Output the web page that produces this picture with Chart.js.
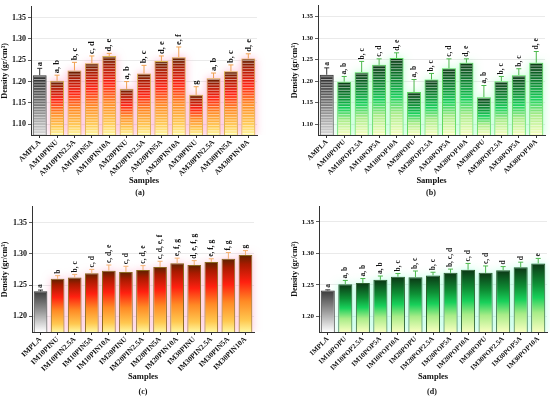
<!DOCTYPE html>
<html>
<head>
<meta charset="utf-8">
<script src="https://cdn.jsdelivr.net/npm/chart.js@4.4.1/dist/chart.umd.min.js"></script>
<style>
html,body{margin:0;padding:0;background:#fff;}
body{width:550px;height:397px;position:relative;overflow:hidden;}
.pane{position:absolute;}
.cap{position:absolute;font:bold 8px "Liberation Serif",serif;color:#111;text-align:center;width:40px;}
</style>
</head>
<body>
<div class="pane" style="left:0;top:0;width:275px;height:200px;"><canvas id="ca"></canvas></div>
<div class="pane" style="left:275px;top:0;width:275px;height:200px;"><canvas id="cb"></canvas></div>
<div class="pane" style="left:0;top:200px;width:275px;height:197px;"><canvas id="cc"></canvas></div>
<div class="pane" style="left:275px;top:200px;width:275px;height:197px;"><canvas id="cd"></canvas></div>
<div class="cap" style="left:120px;top:188px;">(a)</div>
<div class="cap" style="left:411px;top:188px;">(b)</div>
<div class="cap" style="left:123px;top:387px;">(c)</div>
<div class="cap" style="left:412px;top:387px;">(d)</div>
<script>
// ---------- DATA ----------
const categoriesA = ["AMPLA","AM10PINU","AM10PIN2.5A","AM10PIN5A","AM10PIN10A","AM20PINU","AM20PIN2.5A","AM20PIN5A","AM20PIN10A","AM30PINU","AM30PIN2.5A","AM30PIN5A","AM30PIN10A"];
const valuesA = [1.215,1.202,1.226,1.243,1.260,1.183,1.219,1.248,1.257,1.169,1.208,1.224,1.254];
const errorsA = [0.016,0.013,0.019,0.017,0.006,0.017,0.019,0.012,0.024,0.019,0.012,0.015,0.011];
const lettersA = ["a","a, b","b, c","c, d","d, e","a, b","b, c","d, e","e, f","g","a, b","b, c","d, e"];

const categoriesB = ["AMPLA","AM10POPU","AM10POP2.5A","AM10POP5A","AM10POP10A","AM20POPU","AM20POP2.5A","AM20POP5A","AM20POP10A","AM30POPU","AM30POP2.5A","AM30POP5A","AM30POP10A"];
const valuesB = [1.215,1.199,1.221,1.238,1.254,1.175,1.204,1.230,1.243,1.163,1.200,1.214,1.243];
const errorsB = [0.016,0.012,0.025,0.014,0.012,0.029,0.014,0.022,0.009,0.027,0.011,0.015,0.026];
const lettersB = ["a","a, b","b, c","c, d","d, e","a, b","b, c","c, d","d, e","a, b","b, c","b, c","d, e"];

const categoriesC = ["IMPLA","IM10PINU","IM10PIN2.5A","IM10PIN5A","IM10PIN10A","IM20PINU","IM20PIN2.5A","IM20PIN5A","IM20PIN10A","IM30PINU","IM30PIN2.5A","IM30PIN5A","IM30PIN10A"];
const valuesC = [1.240,1.260,1.262,1.269,1.273,1.271,1.274,1.279,1.285,1.282,1.287,1.292,1.298];
const errorsC = [0.002,0.005,0.005,0.006,0.009,0.009,0.007,0.009,0.008,0.007,0.005,0.010,0.007];
const lettersC = ["a","b","b, c","c, d","c, d, e","c, d","c, d, e","c, d, e, f","e, f, g","d, e, f, g","e, f, g","f, g","g"];

const categoriesD = ["IMPLA","IM10POPU","IM10POP2.5A","IM10POP5A","IM10POP10A","IM20POPU","IM20POP2.5A","IM20POP5A","IM20POP10A","IM30POPU","IM30POP2.5A","IM30POP5A","IM30POP10A"];
const valuesD = [1.241,1.251,1.253,1.258,1.263,1.262,1.265,1.269,1.274,1.269,1.273,1.278,1.284];
const errorsD = [0.001,0.006,0.007,0.006,0.005,0.010,0.005,0.006,0.010,0.011,0.006,0.008,0.008];
const lettersD = ["a","a, b","a, b","a, b","b, c","b, c","b, c","b, c, d","c, d","c, d","d","d","e"];

const tickValuesAB = [1.10,1.15,1.20,1.25,1.30,1.35];
const tickValuesCD = [1.20,1.25,1.30,1.35];

// ---------- STYLE ----------
const SERIF = '"Liberation Serif", "Times New Roman", serif';
const redStops = [[0,'#5a2200'],[0.12,'#a81a00'],[0.35,'#ff2010'],[0.6,'#ff8a25'],[0.85,'#ffc850'],[1,'#fff7a0']];
const greenStops = [[0,'#0b3614'],[0.3,'#0e8f35'],[0.5,'#18d05a'],[0.72,'#a8ec88'],[1,'#f8ffc0']];
const grayStripeStops = [[0,'#2a2a2a'],[0.5,'#7a7a7a'],[1,'#d8d8d8']];
const grayStops = [[0,'#3a3a3a'],[0.5,'#9a9a9a'],[1,'#ffffff']];

function gradFill(stops, plaStops){
  return (ctx)=>{
    const chart = ctx.chart;
    if(!chart.chartArea) return '#888';
    const ys = chart.scales.y;
    const top = ys.getPixelForValue(ctx.raw);
    const bot = ys.bottom;
    const g = chart.ctx.createLinearGradient(0, top, 0, bot);
    (ctx.dataIndex===0 ? plaStops : stops).forEach(s=>g.addColorStop(s[0], s[1]));
    return g;
  };
}

const decoPlugin = {
  id:'deco',
  beforeDatasetsDraw(chart, args, o){
    if(!o.glow) return;
    const c = chart.ctx, meta = chart.getDatasetMeta(0), ca = chart.chartArea;
    c.save();
    c.beginPath(); c.rect(ca.left+1, 0, ca.right-ca.left+20, ca.bottom); c.clip();
    c.shadowColor = o.glow; c.shadowBlur = 9;
    c.fillStyle = o.glowFill;
    meta.data.forEach((b,i)=>{
      if(i===0) return;
      const p = b.getProps(['x','y','base','width'], true);
      const base = Math.min(p.base, ca.bottom);
      c.fillRect(p.x-p.width/2, p.y, p.width, base-p.y);
    });
    c.restore();
  },
  afterDatasetsDraw(chart, args, o){
    const c = chart.ctx, meta = chart.getDatasetMeta(0), ys = chart.scales.y, ca = chart.chartArea;
    const vals = chart.data.datasets[0].data;
    c.save();
    meta.data.forEach((b,i)=>{
      const p = b.getProps(['x','y','base','width'], true);
      const base = Math.min(p.base, ca.bottom);
      const l = p.x-p.width/2+1, w = p.width-2;
      if(o.stripes){
        c.save();
        c.beginPath(); c.rect(l, p.y+1, w, base-p.y-1); c.clip();
        c.strokeStyle = 'rgba(255,255,255,0.55)'; c.lineWidth = 1;
        for(let yy = base-1.5; yy > p.y; yy -= 2.7){
          c.beginPath(); c.moveTo(l, yy); c.lineTo(l+w, yy); c.stroke();
        }
        c.restore();
      }
      const yTop = ys.getPixelForValue(vals[i] + o.errors[i]);
      c.strokeStyle = i===0 ? '#333' : o.errColor;
      c.lineWidth = 1;
      c.beginPath();
      c.moveTo(p.x, p.y); c.lineTo(p.x, yTop);
      c.moveTo(p.x-2.5, yTop); c.lineTo(p.x+2.5, yTop);
      c.stroke();
      c.save();
      c.translate(p.x, yTop-2);
      c.rotate(-Math.PI/2);
      c.font = 'bold '+o.letterSize+'px '+SERIF;
      c.fillStyle = '#111';
      c.textAlign = 'left'; c.textBaseline = 'middle';
      c.fillText(o.letters[i], 0, 0);
      c.restore();
    });
    c.restore();
  }
};

function makeChart(id, cfg){
  return new Chart(document.getElementById(id), {
    type:'bar',
    data:{
      labels: cfg.labels,
      datasets:[{
        data: cfg.values,
        base: cfg.min,
        backgroundColor: gradFill(cfg.stops, cfg.plaStops),
        borderColor: (ctx)=> ctx.dataIndex===0 ? '#333' : cfg.border,
        borderWidth: 1,
        barPercentage: 0.8,
        categoryPercentage: 1.0
      }]
    },
    options:{
      responsive:true, maintainAspectRatio:false, animation:false,
      devicePixelRatio:1,
      layout:{padding:cfg.padding},
      plugins:{
        legend:{display:false}, tooltip:{enabled:false},
        deco:{errors:cfg.errors, letters:cfg.letters, errColor:cfg.errColor, stripes:cfg.stripes,
              glow:cfg.glow, glowFill:cfg.glowFill, letterSize:cfg.letterSize}
      },
      scales:{
        x:{
          grid:{display:true, drawOnChartArea:false, drawTicks:true, tickLength:3, tickColor:'#333', offset:false},
          border:{color:'#333', width:1},
          ticks:{font:{family:SERIF, size:cfg.xFont, weight:'bold'}, color:'#111', minRotation:45, maxRotation:45, autoSkip:false, padding:0},
          title:{display:true, text:'Samples', font:{family:SERIF, size:8.5, weight:'bold'}, color:'#111', padding:{top:0,bottom:0}},
          afterFit:(s)=>{ s.height = cfg.xHeight; }
        },
        y:{
          min:cfg.min, max:cfg.max,
          afterBuildTicks:(s)=>{ s.ticks = cfg.ticks.map(v=>({value:v})); },
          grid:{color:'#e4e4e4', lineWidth:0.8, drawTicks:true, tickLength:3, tickColor:'#333'},
          border:{color:'#333', width:1},
          ticks:{font:{family:SERIF, size:cfg.yFont, weight:'bold'}, color:'#111', padding:2, callback:(v)=>Number(v).toFixed(2)},
          title:{display:true, text:'Density (gr/cm³)', font:{family:SERIF, size:8, weight:'bold'}, color:'#111', padding:{top:0,bottom:0}},
          afterFit:(s)=>{ s.width = cfg.yWidth; }
        }
      }
    },
    plugins:[decoPlugin]
  });
}

makeChart('ca', {labels:categoriesA, values:valuesA, errors:errorsA, letters:lettersA,
  stops:redStops, plaStops:grayStripeStops, border:'#d9b050', errColor:'#f0a050', stripes:true,
  glow:'rgba(255,120,170,0.55)', glowFill:'#ffd0d8', letterSize:8.5,
  min:1.075, max:1.375, ticks:tickValuesAB, xFont:7.5, yFont:8,
  padding:{top:5,right:18,left:0,bottom:14}, yWidth:31, xHeight:51});

makeChart('cb', {labels:categoriesB, values:valuesB, errors:errorsB, letters:lettersB,
  stops:greenStops, plaStops:grayStripeStops, border:'#5fd860', errColor:'#4cb84c', stripes:true,
  glow:'rgba(120,255,160,0.5)', glowFill:'#c8ffd8', letterSize:7.5,
  min:1.075, max:1.375, ticks:tickValuesAB, xFont:7, yFont:6.5,
  padding:{top:5,right:5,left:15,bottom:14}, yWidth:28, xHeight:51});

makeChart('cc', {labels:categoriesC, values:valuesC, errors:errorsC, letters:lettersC,
  stops:redStops, plaStops:grayStops, border:'#8a6a20', errColor:'#f5b070', stripes:false,
  glow:'rgba(255,140,180,0.5)', glowFill:'#ffd8e0', letterSize:7.5,
  min:1.175, max:1.375, ticks:tickValuesCD, xFont:7.5, yFont:8,
  padding:{top:2,right:21,left:0,bottom:15}, yWidth:32, xHeight:50});

makeChart('cd', {labels:categoriesD, values:valuesD, errors:errorsD, letters:lettersD,
  stops:greenStops, plaStops:grayStops, border:'#2f5f2f', errColor:'#4cb84c', stripes:false,
  glow:'rgba(120,255,200,0.5)', glowFill:'#c8fff0', letterSize:7.5,
  min:1.175, max:1.375, ticks:tickValuesCD, xFont:7, yFont:7,
  padding:{top:2,right:3,left:15,bottom:15}, yWidth:29, xHeight:50});
</script>
</body>
</html>
